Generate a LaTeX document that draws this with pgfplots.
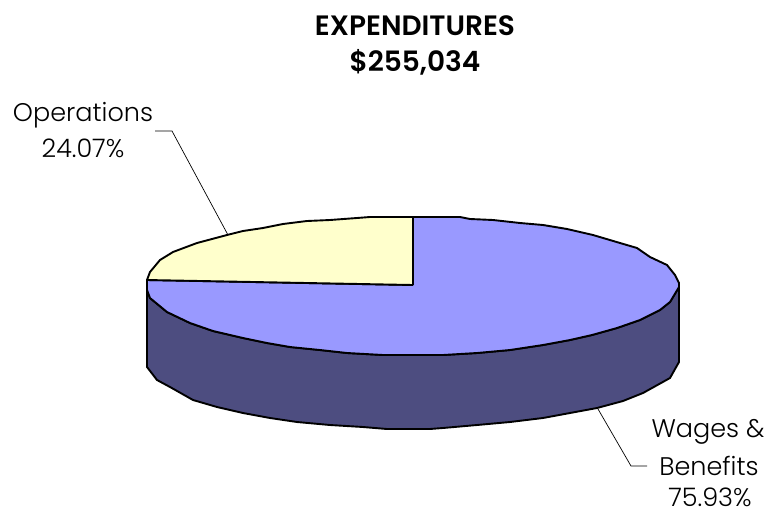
\documentclass[border=0pt]{standalone}
\usepackage{pgfplots}
\pgfplotsset{compat=1.18}
\usepackage{fontspec}
\setmainfont{Poppins Light}[BoldFont=Poppins SemiBold]
\definecolor{wages}{HTML}{9999FF}
\definecolor{ops}{HTML}{FFFFCC}
\definecolor{wall}{HTML}{4D4D80}
\begin{document}
\begin{tikzpicture}
\begin{axis}[at={(0,0)},anchor=south west,scale only axis,width=766pt,height=512pt,xmin=0,xmax=766,ymin=0,ymax=512,y dir=reverse,hide axis,clip=false]
% side wall
\addplot[fill=wall,draw=black,line width=1.9pt,line join=round] coordinates {
(147,280)(147,367)(157,380)(170,387)(193,400)(217,407)(243,413)(270,418)(297,422)(330,425)(363,427)(387,429)(430,429)(443,428)(477,425)(510,422)(543,418)(570,413)(597,408)(623,401)(643,393)(670,378)(679,362)(679,283)
(679,287)(670,302)(660,310)(640,320)(617,328)(592,335)(570,340)(543,345)(510,350)(477,353)(443,355)(430,355)(383,355)(347,353)(320,350)(290,347)(267,343)(243,338)(213,331)(190,323)(167,312)(150,298)(147,290)(147,280)};
% Wages & Benefits 75.93%
\addplot[fill=wages,draw=black,line width=1.9pt,line join=round] coordinates {
(413,285)(413,217)(460,217)(470,219)(493,220)(520,223)(543,225)(567,229)(593,235)(620,243)(637,248)(650,257)(667,265)(675,275)(679,283)
(679,287)(670,302)(660,310)(640,320)(617,328)(592,335)(570,340)(543,345)(510,350)(477,353)(443,355)(430,355)(383,355)(347,353)(320,350)(290,347)(267,343)(243,338)(213,331)(190,323)(167,312)(150,298)(147,290)(147,280)(413,285)};
% Operations 24.07%
\addplot[fill=ops,draw=black,line width=1.9pt,line join=round] coordinates {
(413,285)(147,280)(150,272)(160,260)(173,252)(197,243)(227,235)(243,231)(263,228)(283,224)(307,221)(330,220)(357,218)(370,217)(413,217)(413,285)};
% leaders
\addplot[black,line width=0.7pt] coordinates {(155,131)(172,131)(228,235)};
\addplot[black,line width=0.7pt] coordinates {(598,409)(631,466)(647,466)};
\node[anchor=base,inner sep=0pt,font=\fontsize{28}{28}\selectfont\bfseries] at (axis cs:415,35) {EXPENDITURES};
\node[anchor=base,inner sep=0pt,font=\fontsize{28}{28}\selectfont\bfseries] at (axis cs:415,71) {\$255,034};
\node[anchor=base,inner sep=0pt,font=\fontsize{25.5}{26}\selectfont] at (axis cs:83,121) {Operations};
\node[anchor=base,inner sep=0pt,font=\fontsize{25.5}{26}\selectfont] at (axis cs:83,157) {24.07\%};
\node[anchor=base,inner sep=0pt,font=\fontsize{25.5}{26}\selectfont] at (axis cs:708,437) {Wages \&};
\node[anchor=base,inner sep=0pt,font=\fontsize{25.5}{26}\selectfont] at (axis cs:709,475) {Benefits};
\node[anchor=base,inner sep=0pt,font=\fontsize{25.5}{26}\selectfont] at (axis cs:710,506) {75.93\%};
\end{axis}
\pgfresetboundingbox
\path[use as bounding box] (0,0) rectangle (766pt,512pt);
\end{tikzpicture}
\end{document}
